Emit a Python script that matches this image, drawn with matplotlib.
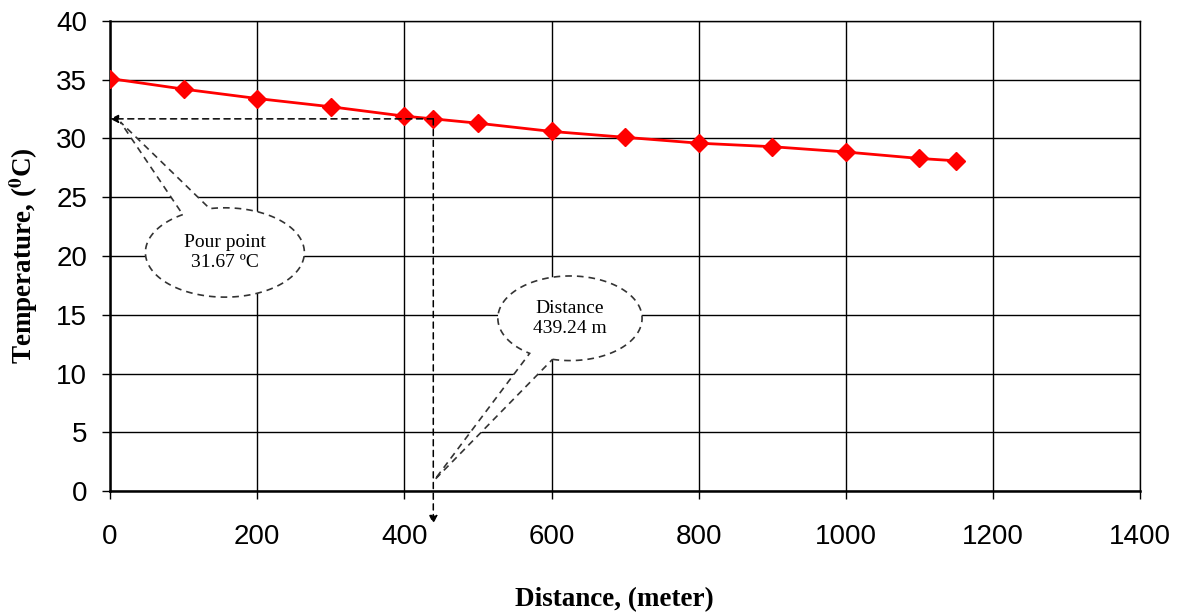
import matplotlib.pyplot as plt
import numpy as np
from matplotlib.patches import Polygon

# data
distance = [0, 100, 200, 300, 400, 439.24, 500, 600, 700, 800, 900, 1000, 1100, 1150]
temperature = [35.1, 34.2, 33.4, 32.7, 31.9, 31.67, 31.3, 30.6, 30.1, 29.6, 29.3, 28.85, 28.3, 28.1]
pour_point = 31.67
pour_distance = 439.24


def callout(ax, cx, cy, a, b, t1, t2, tip, text):
    # ellipse arc from t2 round to t1, then the tail tip
    t = np.radians(np.linspace(t2, t1 + 360, 200))
    pts = np.column_stack([cx + a * np.cos(t), cy + b * np.sin(t)])
    pts = np.vstack([pts, tip])
    ax.add_patch(Polygon(pts, closed=True, facecolor='white', edgecolor='#333333',
                         linestyle=(0, (4, 3)), linewidth=1.2, zorder=4))
    ax.text(cx, cy, text, ha='center', va='center', fontsize=14,
            family='Liberation Serif', linespacing=1.2, zorder=5)


plt.rcParams['mathtext.fontset'] = 'stix'

fig = plt.figure(figsize=(11.84, 6.15), dpi=100)
ax = fig.add_axes([0.093, 0.2016, 0.87, 0.7643])

ax.plot(distance, temperature, color='red', linewidth=2, marker='D',
        markersize=9, zorder=3)

# dashed guide arrows
ax.annotate('', xy=(0, pour_point), xytext=(pour_distance, pour_point),
            arrowprops=dict(arrowstyle='-|>', linestyle=(0, (4, 3)), color='black',
                            lw=1.1, mutation_scale=12, shrinkA=0, shrinkB=0), zorder=3)
ax.annotate('', xy=(pour_distance, -2.8), xytext=(pour_distance, pour_point),
            arrowprops=dict(arrowstyle='-|>', linestyle=(0, (4, 3)), color='black',
                            lw=1.1, mutation_scale=12, shrinkA=0, shrinkB=0),
            annotation_clip=False, zorder=3)

callout(ax, 156, 20.3, 108, 3.8, 101, 122, (14, 31.4), 'Pour point\n31.67 ºC')
callout(ax, 625, 14.7, 98, 3.6, 236, 256, (441, 0.95), 'Distance\n439.24 m')

ax.set_xlim(0, 1400)
ax.set_ylim(0, 40)
ax.set_xticks(np.arange(0, 1401, 200))
ax.set_yticks(np.arange(0, 41, 5))
ax.grid(True, color='black', linewidth=1)
ax.set_axisbelow(True)
for s in ax.spines.values():
    s.set_linewidth(1)
ax.spines['left'].set_linewidth(1.8)
ax.spines['bottom'].set_linewidth(1.8)
ax.tick_params(direction='out', length=5.5, width=1, labelsize=20)
ax.tick_params(axis='x', pad=18)
ax.tick_params(axis='y', pad=11)
for lab in ax.get_xticklabels() + ax.get_yticklabels():
    lab.set_family('Liberation Sans')

ax.set_xlabel('Distance, (meter)', fontsize=19.5, fontweight='bold',
              family='Liberation Serif', labelpad=27)
ax.xaxis.label.set_x(0.49)
ax.set_ylabel(r'Temperature, ($^{\mathbf{0}}$C)', fontsize=19.5, fontweight='bold',
              family='Liberation Serif', labelpad=12)

fig.savefig('out.png', dpi=100)
